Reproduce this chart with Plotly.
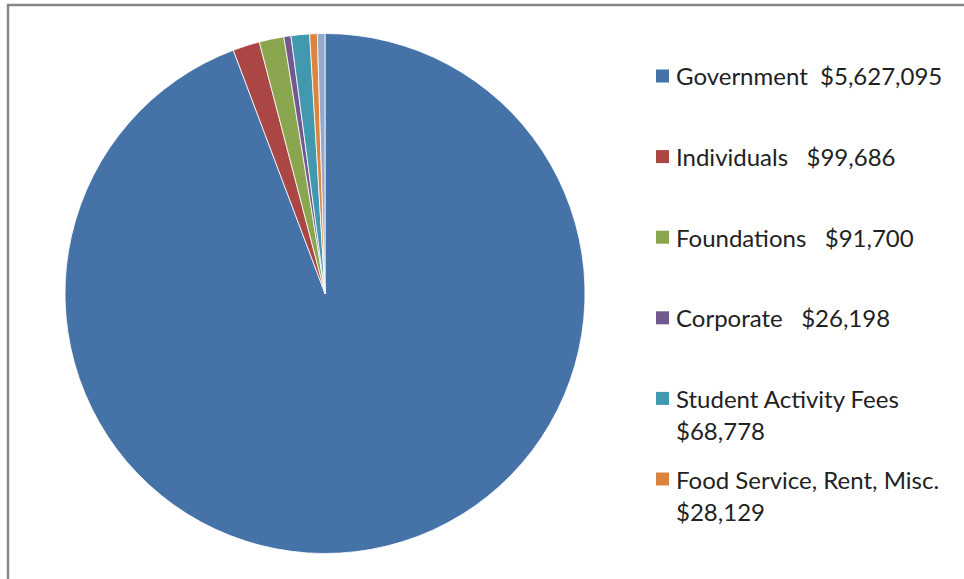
import plotly.graph_objects as go

# ---- data ----
categories = ["Government", "Individuals", "Foundations", "Corporate",
              "Student Activity Fees", "Food Service, Rent, Misc.", "Other"]
values = [5627095, 99686, 91700, 26198, 68778, 28129, 28000]
colors = ["#4572A7", "#AA4643", "#89A54E", "#71588F", "#4198AF", "#DB843D", "#93A9CF"]
# visible legend entries (the 7th entry is cropped out of the picture)
legend_lines = [
    ["Government\u00a0\u00a0$5,627,095"],
    ["Individuals\u00a0\u00a0\u00a0$99,686"],
    ["Foundations\u00a0\u00a0\u00a0$91,700"],
    ["Corporate\u00a0\u00a0\u00a0$26,198"],
    ["Student Activity Fees", "$68,778"],
    ["Food Service, Rent, Misc.", "$28,129"],
]

W, H = 964, 579
FONT = "Lato"
TEXT_COLOR = "#222222"

fig = go.Figure()
fig.add_trace(go.Pie(
    labels=categories,
    values=values,
    sort=False,
    direction="clockwise",
    rotation=0,
    textinfo="none",
    hoverinfo="label+value+percent",
    marker=dict(colors=colors, line=dict(color="white", width=0.8)),
    showlegend=False,
    domain=dict(x=[65 / W, 585 / W], y=[1 - 553.5 / H, 1 - 33.5 / H]),
))

def px(x):
    return x / W

def py(y):
    return 1 - y / H

shapes = [
    # chart frame (only top and left edges are inside the picture)
    dict(type="rect", xref="paper", yref="paper",
         x0=px(8), x1=px(W + 20), y0=py(5), y1=py(H + 20),
         line=dict(color="#868686", width=2.5), fillcolor="rgba(0,0,0,0)", layer="below"),
]
annotations = []
first_y, step, line_gap = 76, 80.6, 32
sw = 13
for i, lines in enumerate(legend_lines):
    yc = first_y + i * step
    shapes.append(dict(type="rect", xref="paper", yref="paper",
                       x0=px(656), x1=px(656 + sw), y0=py(yc - sw / 2), y1=py(yc + sw / 2),
                       fillcolor=colors[i], line=dict(color=colors[i], width=0)))
    for j, t in enumerate(lines):
        annotations.append(dict(xref="paper", yref="paper", x=px(674), y=py(yc + j * line_gap),
                                xanchor="left", yanchor="middle", text=t, showarrow=False,
                                font=dict(family=FONT, size=24, color=TEXT_COLOR)))

fig.update_layout(
    width=W, height=H,
    margin=dict(l=0, r=0, t=0, b=0),
    paper_bgcolor="white",
    plot_bgcolor="white",
    shapes=shapes,
    annotations=annotations,
    font=dict(family=FONT, color=TEXT_COLOR),
)

fig.write_html("out.html",
               config={"displayModeBar": False},
               post_script="document.body.style.margin='0';document.body.style.overflow='hidden';")
